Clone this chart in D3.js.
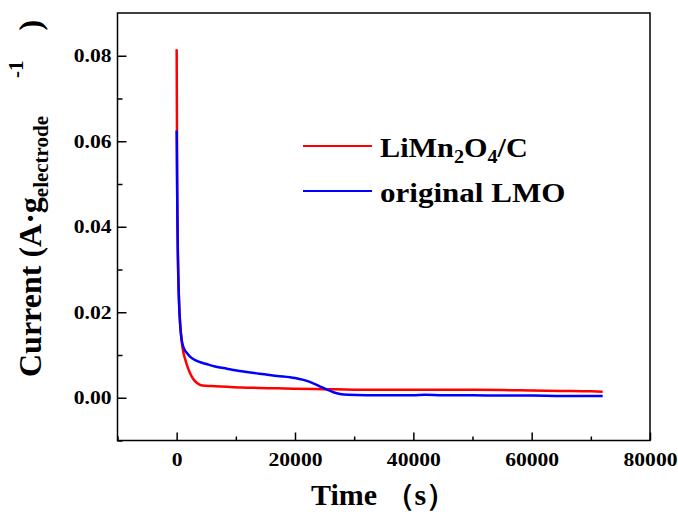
<!DOCTYPE html>
<html>
<head>
<meta charset="utf-8">
<script src="https://cdn.jsdelivr.net/npm/d3@7"></script>
<style>
  body { margin: 0; background: #fff; }
  text { font-family: "Liberation Serif", "Times New Roman", serif; font-weight: bold; }
</style>
</head>
<body>
<script>
const width = 678;
const height = 515;

// LiMn2O4/C (red)
const redTime = [0, 30, 60, 100, 200, 390, 600, 850, 1100, 1400, 1800, 2250, 2800, 3400, 4000, 5000, 6500, 8500, 11000, 14000, 17000, 20000, 25000, 30000, 35000, 40000, 45000, 50000, 55000, 60000, 65000, 70000, 72000];
const redCurrent = [0.0815, 0.070, 0.058, 0.046, 0.034, 0.0229, 0.017, 0.0132, 0.0108, 0.0092, 0.0074, 0.0058, 0.0044, 0.0035, 0.0030, 0.0028, 0.0027, 0.00256, 0.0024, 0.0023, 0.0022, 0.0021, 0.0020, 0.0019, 0.0019, 0.0019, 0.00188, 0.00185, 0.0018, 0.0017, 0.0016, 0.0015, 0.0014];

// original LMO (blue)
const blueTime = [0, 30, 60, 100, 200, 390, 600, 846, 1100, 1400, 1690, 2200, 3000, 4000, 5000, 6500, 8500, 11000, 14000, 17000, 20000, 22500, 24000, 25400, 26500, 27600, 29000, 32000, 40000, 42000, 45000, 50000, 55000, 60000, 65000, 70000, 72000];
const blueCurrent = [0.0625, 0.058, 0.052, 0.0462, 0.034, 0.0229, 0.017, 0.0136, 0.0120, 0.0111, 0.0105, 0.0097, 0.0089, 0.0083, 0.0079, 0.0073, 0.0068, 0.0062, 0.0056, 0.0051, 0.0046, 0.0037, 0.0028, 0.0019, 0.0013, 0.0009, 0.0007, 0.0006, 0.0006, 0.0007, 0.0006, 0.0006, 0.0005, 0.0005, 0.0004, 0.0004, 0.0004];

const xTicks = [0, 20000, 40000, 60000, 80000];
const xMinor = [-10000, 10000, 30000, 50000, 70000];
const yTicks = [0.00, 0.02, 0.04, 0.06, 0.08];
const yMinor = [-0.01, 0.01, 0.03, 0.05, 0.07];

const frame = { left: 117.5, right: 650, top: 13, bottom: 440.5 };

const svg = d3.select("body").append("svg")
    .attr("width", width)
    .attr("height", height);

const x = d3.scaleLinear().domain([-10000, 80000]).range([frame.left, frame.right]);
const y = d3.scaleLinear().domain([-0.01, 0.09]).range([frame.bottom, frame.top]);

// stretch a text element horizontally (the source fonts are a bit wider)
function widen(sel, k) {
    sel.each(function () {
        const w = this.getComputedTextLength();
        d3.select(this).attr("textLength", w * k).attr("lengthAdjust", "spacingAndGlyphs");
    });
}

// axes, ticks pointing inward
const xAxis = svg.append("g")
    .attr("transform", `translate(0,${frame.bottom})`)
    .call(d3.axisBottom(x).tickValues(xTicks).tickSize(-8).tickSizeOuter(0).tickFormat(d3.format("d")));
svg.append("g")
    .attr("transform", `translate(0,${frame.bottom})`)
    .call(d3.axisBottom(x).tickValues(xMinor).tickSize(-4).tickSizeOuter(0).tickFormat(""));

const yAxis = svg.append("g")
    .attr("transform", `translate(${frame.left},0)`)
    .call(d3.axisLeft(y).tickValues(yTicks).tickSize(-9).tickSizeOuter(0).tickFormat(d3.format(".2f")));
svg.append("g")
    .attr("transform", `translate(${frame.left},0)`)
    .call(d3.axisLeft(y).tickValues(yMinor).tickSize(-5).tickSizeOuter(0).tickFormat(""));

svg.selectAll(".domain").remove();
svg.selectAll(".tick line").attr("stroke", "#000").attr("stroke-width", 1.5);
svg.selectAll(".tick text").attr("font-size", 18).attr("fill", "#000");
xAxis.selectAll(".tick text").attr("y", 25.5).attr("dy", 0);
yAxis.selectAll(".tick text").attr("x", -6);
widen(xAxis.selectAll(".tick text"), 1.2);
widen(yAxis.selectAll(".tick text"), 1.2);

// frame
svg.append("rect")
    .attr("x", frame.left).attr("y", frame.top)
    .attr("width", frame.right - frame.left)
    .attr("height", frame.bottom - frame.top)
    .attr("fill", "none").attr("stroke", "#000").attr("stroke-width", 1.5);

// lines
const line = d3.line().x(d => x(d[0])).y(d => y(d[1])).curve(d3.curveMonotoneX);

svg.append("path")
    .datum(redTime.map((t, i) => [t, redCurrent[i]]))
    .attr("d", line).attr("fill", "none").attr("stroke", "#ff0000").attr("stroke-width", 2.5);

svg.append("path")
    .datum(blueTime.map((t, i) => [t, blueCurrent[i]]))
    .attr("d", line).attr("fill", "none").attr("stroke", "#0000ff").attr("stroke-width", 2.5);

// legend
const legend = [
    { color: "#ff0000", y: 146 },
    { color: "#0000ff", y: 191 }
];
legend.forEach(l => {
    svg.append("line").attr("x1", 303).attr("x2", 372).attr("y1", l.y).attr("y2", l.y)
        .attr("stroke", l.color).attr("stroke-width", 1.8);
});
const lg1 = svg.append("g").attr("transform", "translate(380,156.5) scale(1.12,1)");
const t1 = lg1.append("text").attr("font-size", 27);
t1.append("tspan").text("LiMn");
t1.append("tspan").attr("font-size", 18).attr("dy", 6).text("2");
t1.append("tspan").attr("dy", -6).text("O");
t1.append("tspan").attr("font-size", 18).attr("dy", 6).text("4");
t1.append("tspan").attr("dy", -6).text("/C");
svg.append("g").attr("transform", "translate(380,201.5) scale(1.15,1)")
    .append("text").attr("font-size", 27).text("original LMO");

// axis titles
svg.append("text")
    .attr("x", 311).attr("y", 505)
    .attr("font-size", 30)
    .text("Time （s）");

const yl = svg.append("text")
    .attr("transform", "translate(41,377) rotate(-90)")
    .attr("font-size", 32);
yl.append("tspan").text("Current (A·g");
yl.append("tspan").attr("font-size", 21).attr("dy", 7).text("electrode");
yl.append("tspan").attr("font-size", 21).attr("dx", 38).attr("dy", -25).text("-1");
yl.append("tspan").attr("dx", 30).attr("dy", 18).text(")");
</script>
</body>
</html>
